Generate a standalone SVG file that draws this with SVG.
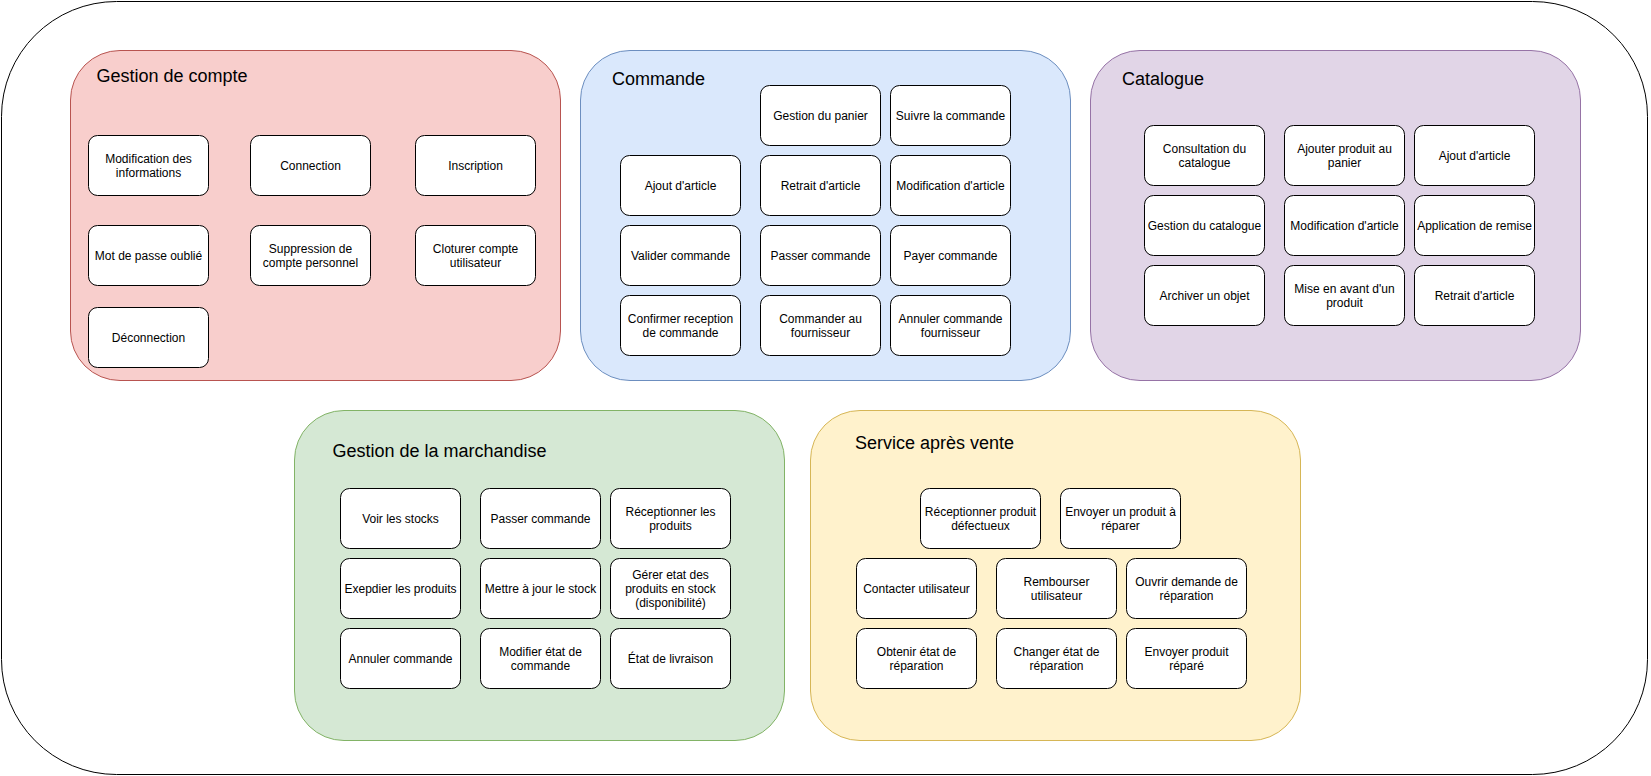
<svg xmlns="http://www.w3.org/2000/svg" width="1651" height="776" viewBox="0 0 1651 776">
<style>
.outer{fill:#ffffff;stroke:#000000;stroke-width:1}
.grp{stroke-width:1}
.red{fill:#f8cecc;stroke:#b85450}
.blue{fill:#dae8fc;stroke:#6c8ebf}
.purple{fill:#e1d5e7;stroke:#9673a6}
.green{fill:#d5e8d4;stroke:#82b366}
.yellow{fill:#fff2cc;stroke:#d6b656}
.box{fill:#ffffff;stroke:#000000;stroke-width:1}
text{font-family:"Liberation Sans",Arial,Helvetica,sans-serif;fill:#000000}
.t{font-size:12px;text-anchor:middle}
.title{font-size:18px}
</style>
<rect class="outer" x="1.5" y="1.5" width="1646" height="773" rx="115" ry="115"/>

<g id="gestion-compte">
<rect class="grp red" x="70.5" y="50.5" width="490" height="330" rx="49.5"/>
<text class="title" x="96.5" y="82.3">Gestion de compte</text>
<g id="gc-modif"><rect class="box" x="88.5" y="135.5" width="120" height="60" rx="9"/><text class="t" x="148.5" y="162.7">Modification des</text><text class="t" x="148.5" y="176.7">informations</text></g>
<g id="gc-connection"><rect class="box" x="250.5" y="135.5" width="120" height="60" rx="9"/><text class="t" x="310.5" y="169.7">Connection</text></g>
<g id="gc-inscription"><rect class="box" x="415.5" y="135.5" width="120" height="60" rx="9"/><text class="t" x="475.5" y="169.7">Inscription</text></g>
<g id="gc-mdp"><rect class="box" x="88.5" y="225.5" width="120" height="60" rx="9"/><text class="t" x="148.5" y="259.7">Mot de passe oublié</text></g>
<g id="gc-suppression"><rect class="box" x="250.5" y="225.5" width="120" height="60" rx="9"/><text class="t" x="310.5" y="252.7">Suppression de</text><text class="t" x="310.5" y="266.7">compte personnel</text></g>
<g id="gc-cloturer"><rect class="box" x="415.5" y="225.5" width="120" height="60" rx="9"/><text class="t" x="475.5" y="252.7">Cloturer compte</text><text class="t" x="475.5" y="266.7">utilisateur</text></g>
<g id="gc-deconnection"><rect class="box" x="88.5" y="307.5" width="120" height="60" rx="9"/><text class="t" x="148.5" y="341.7">Déconnection</text></g>
</g>

<g id="commande">
<rect class="grp blue" x="580.5" y="50.5" width="490" height="330" rx="49.5"/>
<text class="title" x="612" y="85">Commande</text>
<g id="c-panier"><rect class="box" x="760.5" y="85.5" width="120" height="60" rx="9"/><text class="t" x="820.5" y="119.7">Gestion du panier</text></g>
<g id="c-suivre"><rect class="box" x="890.5" y="85.5" width="120" height="60" rx="9"/><text class="t" x="950.5" y="119.7">Suivre la commande</text></g>
<g id="c-ajout"><rect class="box" x="620.5" y="155.5" width="120" height="60" rx="9"/><text class="t" x="680.5" y="189.7">Ajout d'article</text></g>
<g id="c-retrait"><rect class="box" x="760.5" y="155.5" width="120" height="60" rx="9"/><text class="t" x="820.5" y="189.7">Retrait d'article</text></g>
<g id="c-modif"><rect class="box" x="890.5" y="155.5" width="120" height="60" rx="9"/><text class="t" x="950.5" y="189.7">Modification d'article</text></g>
<g id="c-valider"><rect class="box" x="620.5" y="225.5" width="120" height="60" rx="9"/><text class="t" x="680.5" y="259.7">Valider commande</text></g>
<g id="c-passer"><rect class="box" x="760.5" y="225.5" width="120" height="60" rx="9"/><text class="t" x="820.5" y="259.7">Passer commande</text></g>
<g id="c-payer"><rect class="box" x="890.5" y="225.5" width="120" height="60" rx="9"/><text class="t" x="950.5" y="259.7">Payer commande</text></g>
<g id="c-confirmer"><rect class="box" x="620.5" y="295.5" width="120" height="60" rx="9"/><text class="t" x="680.5" y="322.7">Confirmer reception</text><text class="t" x="680.5" y="336.7">de commande</text></g>
<g id="c-fournisseur"><rect class="box" x="760.5" y="295.5" width="120" height="60" rx="9"/><text class="t" x="820.5" y="322.7">Commander au</text><text class="t" x="820.5" y="336.7">fournisseur</text></g>
<g id="c-annuler"><rect class="box" x="890.5" y="295.5" width="120" height="60" rx="9"/><text class="t" x="950.5" y="322.7">Annuler commande</text><text class="t" x="950.5" y="336.7">fournisseur</text></g>
</g>

<g id="catalogue">
<rect class="grp purple" x="1090.5" y="50.5" width="490" height="330" rx="49.5"/>
<text class="title" x="1122" y="85">Catalogue</text>
<g id="cat-consultation"><rect class="box" x="1144.5" y="125.5" width="120" height="60" rx="9"/><text class="t" x="1204.5" y="152.7">Consultation du</text><text class="t" x="1204.5" y="166.7">catalogue</text></g>
<g id="cat-ajouter"><rect class="box" x="1284.5" y="125.5" width="120" height="60" rx="9"/><text class="t" x="1344.5" y="152.7">Ajouter produit au</text><text class="t" x="1344.5" y="166.7">panier</text></g>
<g id="cat-ajout"><rect class="box" x="1414.5" y="125.5" width="120" height="60" rx="9"/><text class="t" x="1474.5" y="159.7">Ajout d'article</text></g>
<g id="cat-gestion"><rect class="box" x="1144.5" y="195.5" width="120" height="60" rx="9"/><text class="t" x="1204.5" y="229.7">Gestion du catalogue</text></g>
<g id="cat-modif"><rect class="box" x="1284.5" y="195.5" width="120" height="60" rx="9"/><text class="t" x="1344.5" y="229.7">Modification d'article</text></g>
<g id="cat-remise"><rect class="box" x="1414.5" y="195.5" width="120" height="60" rx="9"/><text class="t" x="1474.5" y="229.7">Application de remise</text></g>
<g id="cat-archiver"><rect class="box" x="1144.5" y="265.5" width="120" height="60" rx="9"/><text class="t" x="1204.5" y="299.7">Archiver un objet</text></g>
<g id="cat-mise"><rect class="box" x="1284.5" y="265.5" width="120" height="60" rx="9"/><text class="t" x="1344.5" y="292.7">Mise en avant d'un</text><text class="t" x="1344.5" y="306.7">produit</text></g>
<g id="cat-retrait"><rect class="box" x="1414.5" y="265.5" width="120" height="60" rx="9"/><text class="t" x="1474.5" y="299.7">Retrait d'article</text></g>
</g>

<g id="marchandise">
<rect class="grp green" x="294.5" y="410.5" width="490" height="330" rx="49.5"/>
<text class="title" x="332.5" y="457.3">Gestion de la marchandise</text>
<g id="m-voir"><rect class="box" x="340.5" y="488.5" width="120" height="60" rx="9"/><text class="t" x="400.5" y="522.7">Voir les stocks</text></g>
<g id="m-passer"><rect class="box" x="480.5" y="488.5" width="120" height="60" rx="9"/><text class="t" x="540.5" y="522.7">Passer commande</text></g>
<g id="m-receptionner"><rect class="box" x="610.5" y="488.5" width="120" height="60" rx="9"/><text class="t" x="670.5" y="515.7">Réceptionner les</text><text class="t" x="670.5" y="529.7">produits</text></g>
<g id="m-expedier"><rect class="box" x="340.5" y="558.5" width="120" height="60" rx="9"/><text class="t" x="400.5" y="592.7">Exepdier les produits</text></g>
<g id="m-maj"><rect class="box" x="480.5" y="558.5" width="120" height="60" rx="9"/><text class="t" x="540.5" y="592.7">Mettre à jour le stock</text></g>
<g id="m-gerer"><rect class="box" x="610.5" y="558.5" width="120" height="60" rx="9"/><text class="t" x="670.5" y="578.7">Gérer etat des</text><text class="t" x="670.5" y="592.7">produits en stock</text><text class="t" x="670.5" y="606.7">(disponibilité)</text></g>
<g id="m-annuler"><rect class="box" x="340.5" y="628.5" width="120" height="60" rx="9"/><text class="t" x="400.5" y="662.7">Annuler commande</text></g>
<g id="m-modifier"><rect class="box" x="480.5" y="628.5" width="120" height="60" rx="9"/><text class="t" x="540.5" y="655.7">Modifier état de</text><text class="t" x="540.5" y="669.7">commande</text></g>
<g id="m-livraison"><rect class="box" x="610.5" y="628.5" width="120" height="60" rx="9"/><text class="t" x="670.5" y="662.7">État de livraison</text></g>
</g>

<g id="sav">
<rect class="grp yellow" x="810.5" y="410.5" width="490" height="330" rx="49.5"/>
<text class="title" x="855" y="449.3">Service après vente</text>
<g id="s-receptionner"><rect class="box" x="920.5" y="488.5" width="120" height="60" rx="9"/><text class="t" x="980.5" y="515.7">Réceptionner produit</text><text class="t" x="980.5" y="529.7">défectueux</text></g>
<g id="s-envoyer"><rect class="box" x="1060.5" y="488.5" width="120" height="60" rx="9"/><text class="t" x="1120.5" y="515.7">Envoyer un produit à</text><text class="t" x="1120.5" y="529.7">réparer</text></g>
<g id="s-contacter"><rect class="box" x="856.5" y="558.5" width="120" height="60" rx="9"/><text class="t" x="916.5" y="592.7">Contacter utilisateur</text></g>
<g id="s-rembourser"><rect class="box" x="996.5" y="558.5" width="120" height="60" rx="9"/><text class="t" x="1056.5" y="585.7">Rembourser</text><text class="t" x="1056.5" y="599.7">utilisateur</text></g>
<g id="s-ouvrir"><rect class="box" x="1126.5" y="558.5" width="120" height="60" rx="9"/><text class="t" x="1186.5" y="585.7">Ouvrir demande de</text><text class="t" x="1186.5" y="599.7">réparation</text></g>
<g id="s-obtenir"><rect class="box" x="856.5" y="628.5" width="120" height="60" rx="9"/><text class="t" x="916.5" y="655.7">Obtenir état de</text><text class="t" x="916.5" y="669.7">réparation</text></g>
<g id="s-changer"><rect class="box" x="996.5" y="628.5" width="120" height="60" rx="9"/><text class="t" x="1056.5" y="655.7">Changer état de</text><text class="t" x="1056.5" y="669.7">réparation</text></g>
<g id="s-repare"><rect class="box" x="1126.5" y="628.5" width="120" height="60" rx="9"/><text class="t" x="1186.5" y="655.7">Envoyer produit</text><text class="t" x="1186.5" y="669.7">réparé</text></g>
</g>

<g id="connectors"></g>
</svg>
